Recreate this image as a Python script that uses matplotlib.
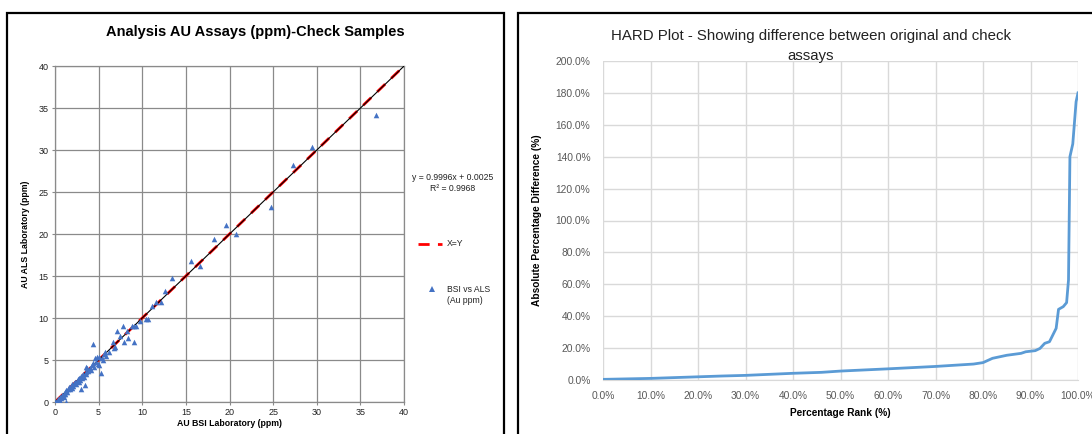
import matplotlib
matplotlib.use("Agg")
import matplotlib.pyplot as plt
from matplotlib.lines import Line2D
from matplotlib.patches import Rectangle
from matplotlib.ticker import FuncFormatter

plt.rcParams["font.family"] = ["Liberation Sans", "DejaVu Sans"]

# check samples: BSI (x) vs ALS (y), Au ppm
bsi_au = [0.05, 0.1, 0.2, 0.3, 0.35, 0.4, 0.5, 0.6, 0.6, 0.7, 0.8, 0.9, 1.0, 1.0,
          1.1, 1.2, 1.3, 1.3, 1.4, 1.5, 1.6, 1.7, 1.8, 1.9, 2.0, 2.1, 2.2, 2.3,
          2.4, 2.5, 2.6, 2.7, 2.8, 2.9, 3.0, 3.0, 3.1, 3.2, 3.3, 3.4, 3.5, 3.6,
          3.6, 3.7, 3.8, 4.0, 4.1, 4.2, 4.3, 4.4, 4.5, 4.6, 4.7, 4.8, 4.9, 5.0,
          5.1, 5.3, 5.4, 5.5, 5.6, 5.7, 5.9, 6.2, 6.6, 6.8, 6.9, 7.1, 7.4, 7.8,
          7.9, 8.2, 8.4, 8.8, 9.1, 9.3, 9.0, 9.7, 10.4, 10.7, 11.1, 11.6, 12.2,
          12.6, 13.4, 15.6, 16.6, 18.2, 19.6, 20.8, 24.7, 27.3, 29.4, 36.8]
als_au = [0.0, 0.05, 0.15, 0.0, 0.3, 0.0, 0.4, 0.1, 0.6, 0.5, 0.8, 0.7, 1.0, 0.6,
          1.2, 1.0, 0.0, 1.4, 1.2, 1.6, 1.8, 1.5, 1.9, 1.7, 2.1, 1.9, 2.3, 2.4,
          2.2, 2.5, 2.7, 2.4, 2.9, 2.6, 1.5, 3.1, 2.8, 3.3, 3.0, 2.0, 3.6, 3.3,
          4.2, 4.0, 3.7, 4.0, 3.8, 4.4, 4.6, 6.9, 4.2, 5.2, 4.8, 5.3, 4.5, 5.3,
          4.4, 3.5, 5.2, 5.0, 5.7, 6.0, 5.5, 6.0, 7.1, 6.4, 6.5, 8.4, 7.8, 9.0,
          7.2, 8.4, 7.6, 9.1, 7.2, 9.0, 9.1, 9.7, 9.9, 9.9, 11.4, 11.9, 11.9,
          13.2, 14.8, 16.8, 16.2, 19.4, 21.1, 20.0, 23.2, 28.2, 30.3, 34.2]

fit_slope = 0.9996
fit_icept = 0.0025
fit_r2 = 0.9968
line_x = [0, 40]

# HARD plot: percentage rank vs absolute percentage difference
rank_pct = [0, 10, 20, 25, 30, 40, 46, 50, 60, 70, 78, 80, 82, 85, 88, 89, 91,
            92, 93, 94, 95.4, 95.9, 96.9, 97.6, 98.0, 98.3, 98.9, 99.6, 100]
abs_diff_pct = [0.4, 1.0, 2.0, 2.5, 2.9, 4.2, 4.8, 5.6, 7.0, 8.5, 10.0, 10.9,
                13.6, 15.5, 16.7, 17.7, 18.4, 19.8, 23.0, 24.0, 32.4, 44.3,
                46.0, 48.5, 62.7, 140.0, 148.0, 174.5, 180.0]

fig = plt.figure(figsize=(10.92, 4.34), dpi=100)

# panel frames
fig.add_artist(Rectangle((7 / 1092, -0.1), 497 / 1092, 1.1 - 13 / 434,
                         transform=fig.transFigure, fill=False, ec="black", lw=1.6))
fig.add_artist(Rectangle((518 / 1092, -0.1), 0.6, 1.1 - 13 / 434,
                         transform=fig.transFigure, fill=False, ec="black", lw=1.6))

# ---- left: scatter of check samples
ax1 = fig.add_axes([55 / 1092, 1 - 402 / 434, 349 / 1092, 336 / 434])
grid_c = "#8a8a8a"
ax1.plot(line_x, line_x, color="#ff0000", lw=2.0, ls=(0, (4, 3)), zorder=2)
ax1.plot(line_x, [fit_slope * v + fit_icept for v in line_x], color="black",
         lw=0.8, zorder=3)
ax1.scatter(bsi_au, als_au, marker="^", s=16, color="#4472c4", lw=0, zorder=4)
ax1.set_xlim(0, 40)
ax1.set_ylim(0, 40)
ax1.set_xticks(range(0, 41, 5))
ax1.set_yticks(range(0, 41, 5))
ax1.grid(True, color=grid_c, lw=0.9)
ax1.set_axisbelow(True)
for s in ax1.spines.values():
    s.set_color(grid_c)
    s.set_linewidth(0.9)
ax1.tick_params(labelsize=6.5, length=2.5, color=grid_c, labelcolor="#222222", pad=2)
ax1.set_xlabel("AU BSI Laboratory (ppm)", fontsize=6.3, fontweight="bold", labelpad=1)
ax1.set_ylabel("AU ALS Laboratory (ppm)", fontsize=6.3, fontweight="bold", labelpad=6)
fig.text(255 / 1092, 1 - 32 / 434, "Analysis AU Assays (ppm)-Check Samples",
         ha="center", va="center", fontsize=10.5, fontweight="bold")

# legend / trend label to the right of the plot
fig.text(453 / 1092, 1 - 183 / 434,
         "y = %.4fx + %.4f\nR² = %.4f" % (fit_slope, fit_icept, fit_r2),
         ha="center", va="center", fontsize=6.2, color="#222222", linespacing=1.3)
fig.add_artist(Line2D([418 / 1092, 442 / 1092], [1 - 244 / 434] * 2,
                      transform=fig.transFigure, color="#ff0000", lw=2.0,
                      ls=(0, (4, 3))))
fig.text(447 / 1092, 1 - 244 / 434, "X=Y", ha="left", va="center", fontsize=6.2,
         color="#222222")
fig.add_artist(Line2D([432 / 1092], [1 - 289 / 434], transform=fig.transFigure,
                      marker="^", ms=3.8, color="#4472c4", lw=0, mew=0))
fig.text(447 / 1092, 1 - 295 / 434, "BSI vs ALS\n(Au ppm)", ha="left", va="center",
         fontsize=6.2, color="#222222", linespacing=1.3)

# ---- right: HARD plot
ax2 = fig.add_axes([603 / 1092, 1 - 380 / 434, 475 / 1092, 319 / 434])
ax2.plot(rank_pct, abs_diff_pct, color="#5b9bd5", lw=2.0, zorder=3)
ax2.set_xlim(0, 100)
ax2.set_ylim(0, 200)
ax2.set_xticks(range(0, 101, 10))
ax2.set_yticks(range(0, 201, 20))
pct = FuncFormatter(lambda v, p: "%.1f%%" % v)
ax2.xaxis.set_major_formatter(pct)
ax2.yaxis.set_major_formatter(pct)
ax2.grid(True, color="#d9d9d9", lw=1.0)
ax2.set_axisbelow(True)
for k in ("left", "top", "right"):
    ax2.spines[k].set_visible(False)
ax2.spines["bottom"].set_color("#d9d9d9")
ax2.tick_params(labelsize=7.4, length=0, labelcolor="#595959")
ax2.tick_params(axis="x", pad=8)
ax2.tick_params(axis="y", pad=9)
ax2.set_xlabel("Percentage Rank (%)", fontsize=7.3, fontweight="bold", labelpad=5)
ax2.set_ylabel("Absolute Percentage Difference (%)", fontsize=7.3,
               fontweight="bold", labelpad=10)
fig.text(811 / 1092, 1 - 46 / 434,
         "HARD Plot - Showing difference between original and check\nassays",
         ha="center", va="center", fontsize=10.8, color="#222222", linespacing=1.5)

fig.savefig("out.png", dpi=100)
